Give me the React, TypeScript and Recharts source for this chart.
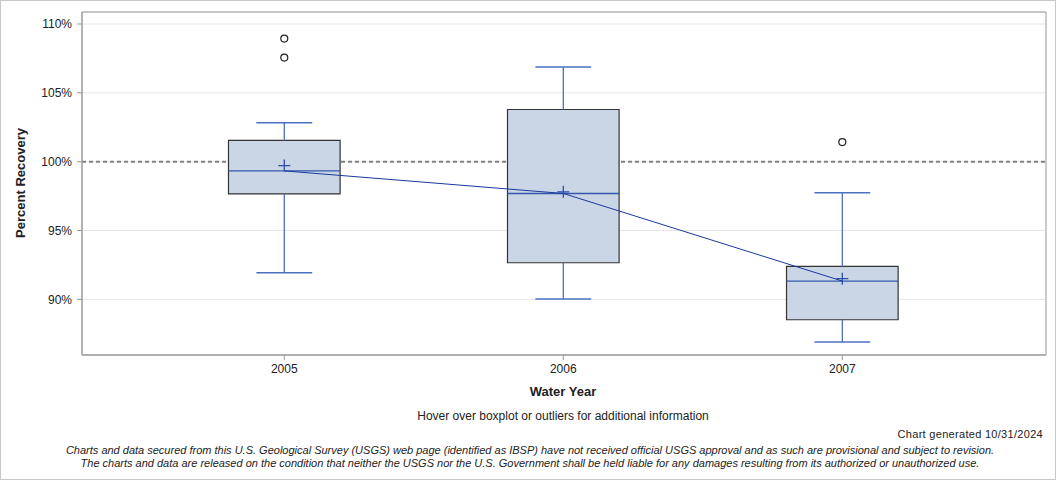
import React from 'react';
import {
  ComposedChart, Line, XAxis, YAxis, CartesianGrid,
  ReferenceLine, ReferenceArea, ReferenceDot,
} from 'recharts';

// Water years and box statistics (percent recovery)
const years = ['2005', '2006', '2007'];
const whiskerLow = [91.93, 90.02, 86.9];
const q1 = [97.66, 92.66, 88.52];
const median = [99.33, 97.69, 91.33];
const q3 = [101.54, 103.79, 92.39];
const whiskerHigh = [102.82, 106.88, 97.74];
const means = [99.72, 97.81, 91.5];

const outlierYear = [0, 0, 2];
const outlierValue = [108.94, 107.56, 101.42];

const yTicks = [90, 95, 100, 105, 110];
const yDomain = [85.96, 110.87];
const xDomain = [-0.725, 2.73];

const FONT = '"Liberation Sans", Arial, sans-serif';
const BOX_HALF = 0.2;
const CAP_HALF = 0.1;

const statData = years.map((y, i) => ({ x: i, median: median[i], mean: means[i] }));

const PlusDot = (props: any) => {
  const { cx, cy, index } = props;
  if (cx == null || cy == null) return <g key={index} />;
  return (
    <path
      key={index}
      d={`M${cx - 6},${cy}H${cx + 6}M${cx},${cy - 6}V${cy + 6}`}
      stroke="#2b4fa8"
      strokeWidth={1.3}
      fill="none"
    />
  );
};

const OutlierDot = (props: any) => (
  <circle cx={props.cx} cy={props.cy} r={3.5} fill="none" stroke="#222" strokeWidth={1.2} />
);

export default function App() {
  return (
    <div style={{ position: 'absolute', left: 0, top: 0, width: 1056, height: 480, background: '#fff', fontFamily: FONT }}>
      <ComposedChart
        width={1056}
        height={480}
        data={statData}
        margin={{ top: 12, right: 10, bottom: 95, left: 0 }}
      >
        <CartesianGrid vertical={false} stroke="#e6e6e6" />
        <XAxis
          dataKey="x"
          type="number"
          domain={xDomain}
          ticks={[0, 1, 2]}
          tickFormatter={(v: number) => years[v]}
          height={30}
          tickSize={5}
          tickMargin={4}
          allowDataOverflow
          stroke="#999"
          tick={{ fill: '#222', fontSize: 12, fontFamily: FONT }}
        />
        <YAxis
          type="number"
          domain={yDomain}
          ticks={yTicks}
          tickFormatter={(v: number) => `${v}%`}
          width={82}
          tickSize={5}
          tickMargin={5}
          allowDataOverflow
          stroke="#999"
          tick={{ fill: '#222', fontSize: 12, fontFamily: FONT }}
        />
        {/* 100% reference, kept behind the boxes */}
        <ReferenceLine y={100} stroke="#808080" strokeWidth={2} strokeDasharray="4 3" zIndex={-50} />

        {years.map((y, i) => (
          <ReferenceLine
            key={`wl${i}`}
            segment={[{ x: i, y: whiskerLow[i] }, { x: i, y: q1[i] }]}
            stroke="#4b70c2"
            strokeWidth={1.3}
          />
        ))}
        {years.map((y, i) => (
          <ReferenceLine
            key={`wh${i}`}
            segment={[{ x: i, y: q3[i] }, { x: i, y: whiskerHigh[i] }]}
            stroke="#4b70c2"
            strokeWidth={1.3}
          />
        ))}
        {years.map((y, i) => (
          <ReferenceLine
            key={`cl${i}`}
            segment={[{ x: i - CAP_HALF, y: whiskerLow[i] }, { x: i + CAP_HALF, y: whiskerLow[i] }]}
            stroke="#4b70c2"
            strokeWidth={1.5}
          />
        ))}
        {years.map((y, i) => (
          <ReferenceLine
            key={`ch${i}`}
            segment={[{ x: i - CAP_HALF, y: whiskerHigh[i] }, { x: i + CAP_HALF, y: whiskerHigh[i] }]}
            stroke="#4b70c2"
            strokeWidth={1.5}
          />
        ))}
        {years.map((y, i) => (
          <ReferenceArea
            key={`box${i}`}
            x1={i - BOX_HALF}
            x2={i + BOX_HALF}
            y1={q1[i]}
            y2={q3[i]}
            fill="#cad5e5"
            fillOpacity={1}
            stroke="#333"
            strokeWidth={1.2}
          />
        ))}
        {years.map((y, i) => (
          <ReferenceLine
            key={`med${i}`}
            segment={[{ x: i - BOX_HALF, y: median[i] }, { x: i + BOX_HALF, y: median[i] }]}
            stroke="#3358b0"
            strokeWidth={1.3}
          />
        ))}

        {/* line joining the medians */}
        <Line
          dataKey="median"
          type="linear"
          stroke="#1a3a9c"
          strokeWidth={1}
          dot={false}
          activeDot={false}
          isAnimationActive={false}
        />
        {/* mean markers */}
        <Line
          dataKey="mean"
          type="linear"
          stroke="none"
          dot={PlusDot}
          activeDot={false}
          isAnimationActive={false}
        />

        {outlierValue.map((v, i) => (
          <ReferenceDot
            key={`out${i}`}
            x={outlierYear[i]}
            y={v}
            r={3.5}
            shape={OutlierDot}
          />
        ))}

        <ReferenceArea
          x1={xDomain[0]}
          x2={xDomain[1]}
          y1={yDomain[0]}
          y2={yDomain[1]}
          fill="none"
          stroke="#999"
          strokeWidth={1}
        />
      </ComposedChart>

      <div style={{ position: 'absolute', left: 20, top: 183, transform: 'translate(-50%, -50%) rotate(-90deg)', fontSize: 13, fontWeight: 'bold', color: '#222', whiteSpace: 'nowrap' }}>
        Percent Recovery
      </div>
      <div style={{ position: 'absolute', left: 0, width: 1126, top: 384, textAlign: 'center', fontSize: 13, fontWeight: 'bold', color: '#222' }}>
        Water Year
      </div>
      <div style={{ position: 'absolute', left: 0, width: 1126, top: 409, textAlign: 'center', fontSize: 12, color: '#222' }}>
        Hover over boxplot or outliers for additional information
      </div>
      <div style={{ position: 'absolute', right: 13, top: 428, fontSize: 11, color: '#222', letterSpacing: 0.3 }}>
        Chart generated 10/31/2024
      </div>
      <div style={{ position: 'absolute', left: 0, width: 1060, top: 444, textAlign: 'center', fontSize: 11, fontStyle: 'italic', color: '#222', lineHeight: '13px' }}>
        Charts and data secured from this U.S. Geological Survey (USGS) web page (identified as IBSP) have not received official USGS approval and as such are provisional and subject to revision.
        <br />
        The charts and data are released on the condition that neither the USGS nor the U.S. Government shall be held liable for any damages resulting from its authorized or unauthorized use.
      </div>
      <div style={{ position: 'absolute', left: 0, top: 0, width: 1056, height: 480, boxSizing: 'border-box', border: '1px solid #c8c8c8', pointerEvents: 'none' }} />
    </div>
  );
}
